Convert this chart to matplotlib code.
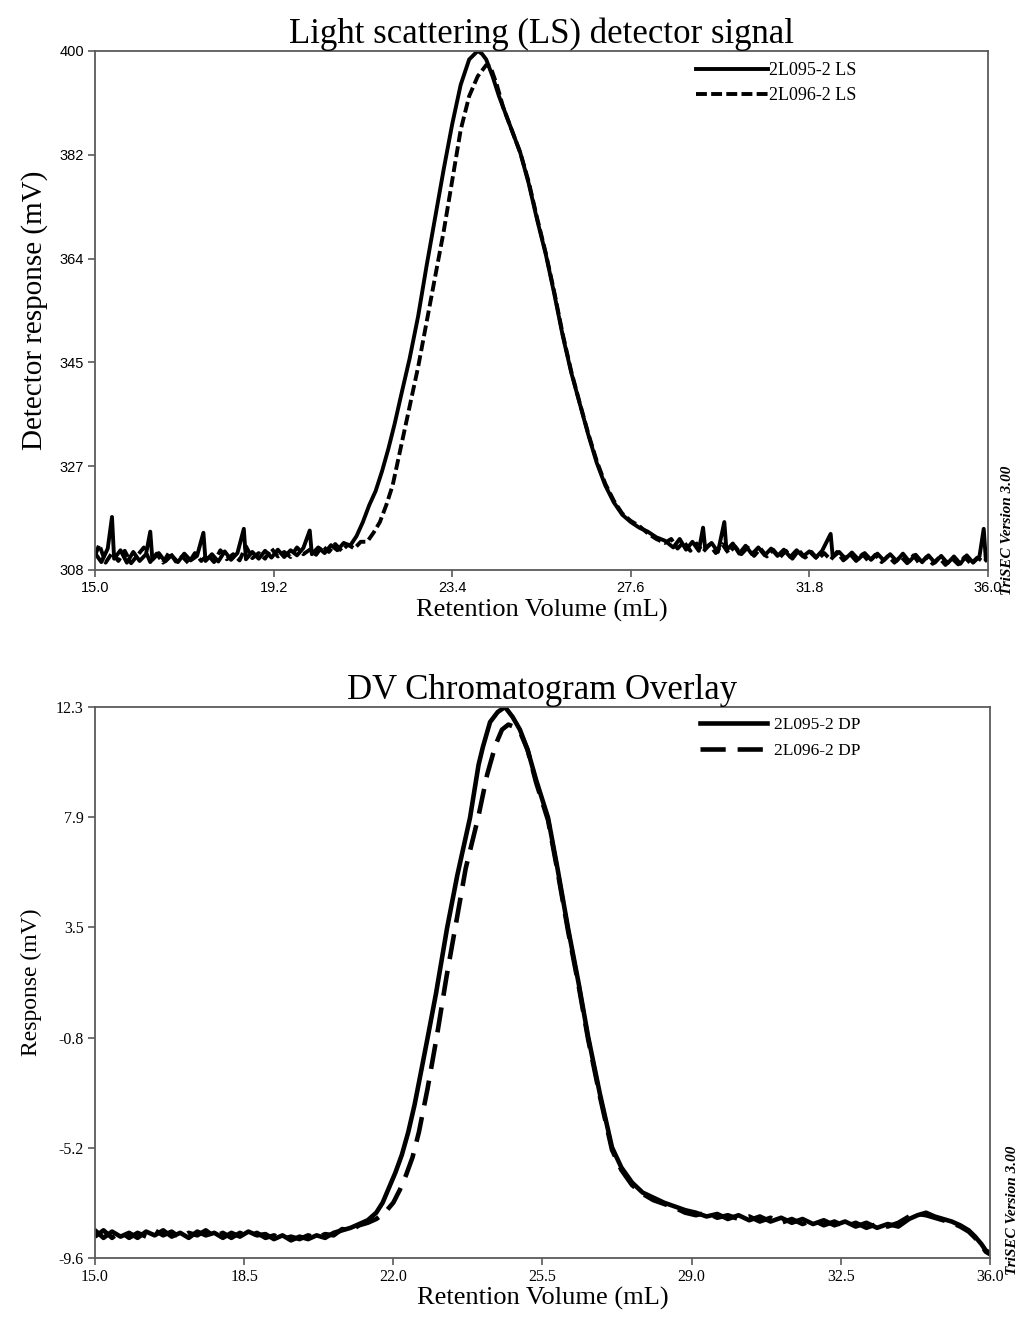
import matplotlib
matplotlib.use("Agg")
import matplotlib.pyplot as plt

# --- light scattering signal (top panel) ---
ls95_x = [15.00, 15.15, 15.30, 15.40, 15.45, 15.60, 15.75, 15.90, 16.05, 16.20, 16.30, 16.35,
          16.50, 16.65, 16.80, 16.95, 17.10, 17.25, 17.40, 17.55, 17.60, 17.75, 17.90, 18.05,
          18.20, 18.35, 18.50, 18.55, 18.70, 18.85, 19.00, 19.15, 19.30, 19.45, 19.60, 19.75,
          19.90, 20.05, 20.10, 20.25, 20.40, 20.55, 20.70, 20.85, 21.00,
          21.15, 21.30, 21.45, 21.60, 21.75, 21.90, 22.05, 22.20, 22.40, 22.60, 22.80, 23.00,
          23.20, 23.40, 23.60, 23.80, 24.00, 24.10, 24.20, 24.35, 24.50, 24.65, 24.80, 25.00,
          25.20, 25.40, 25.60, 25.80, 26.00, 26.20, 26.40, 26.60, 26.80, 27.00, 27.20, 27.40,
          27.60, 27.80, 28.00, 28.20, 28.40,
          28.60, 28.75, 28.90, 29.05, 29.20, 29.30, 29.35, 29.50, 29.65, 29.80, 29.85, 30.00,
          30.15, 30.30, 30.45, 30.60, 30.75, 30.90, 31.05, 31.20, 31.35, 31.50, 31.65, 31.80,
          31.95, 32.10, 32.30, 32.35, 32.50, 32.65, 32.80, 32.95, 33.10, 33.25, 33.40, 33.55,
          33.70, 33.85, 34.00, 34.15, 34.30, 34.45, 34.60, 34.75, 34.90, 35.05, 35.20, 35.35,
          35.50, 35.65, 35.80, 35.90, 35.95, 36.00]
ls95_y = [311.0, 309.4, 311.8, 317.4, 310.0, 311.5, 309.3, 311.2, 309.6, 310.8, 314.8, 309.8,
          311.0, 309.5, 310.6, 309.4, 310.9, 309.7, 310.5, 314.6, 309.6, 310.8, 309.5, 311.3,
          309.8, 311.0, 315.3, 309.9, 311.2, 310.0, 311.4, 310.2, 311.6, 310.3, 311.5, 310.6,
          311.9, 315.0, 310.8, 312.0, 311.0, 312.4, 311.5, 312.8, 312.3,
          314.0, 316.5, 319.5, 322.0, 325.5, 329.5, 334.0, 339.0, 345.5, 353.0, 362.0, 370.5,
          379.0, 387.0, 394.0, 398.5, 400.0, 399.5, 398.5, 395.5, 392.0, 389.0, 386.0, 382.0,
          376.5, 370.0, 364.0, 357.0, 349.5, 343.0, 337.5, 332.0, 327.0, 323.0, 320.0, 317.8,
          316.5, 315.5, 314.8, 313.8, 313.2,
          312.0, 313.5, 311.6, 313.0, 311.4, 315.5, 311.8, 312.8, 311.2, 316.5, 311.5, 312.7,
          310.9, 312.3, 310.8, 312.0, 310.6, 311.8, 310.5, 311.6, 310.3, 311.5, 310.4, 311.3,
          310.2, 311.4, 314.4, 310.3, 311.2, 310.0, 311.1, 309.9, 311.0, 309.8, 310.9, 309.7,
          310.8, 309.6, 310.9, 309.5, 310.7, 309.4, 310.6, 309.3, 310.5, 309.2, 310.4, 309.1,
          310.6, 309.3, 310.4, 315.3, 309.8, 310.3]

ls96_x = [15.00, 15.10, 15.25, 15.40, 15.55, 15.70, 15.85, 16.00, 16.15, 16.30, 16.45, 16.60,
          16.75, 16.90, 17.05, 17.20, 17.35, 17.50, 17.65, 17.80, 17.95, 18.10, 18.25, 18.40,
          18.55, 18.70, 18.85, 19.00, 19.15, 19.30, 19.45, 19.60, 19.75, 19.90, 20.05, 20.20,
          20.35, 20.50, 20.65, 20.80, 20.95, 21.10, 21.25, 21.40,
          21.55, 21.70, 21.85, 22.00, 22.20, 22.40, 22.60, 22.80, 23.00, 23.20, 23.40, 23.60,
          23.80, 24.00, 24.20, 24.30, 24.45, 24.60, 24.80, 25.00, 25.20, 25.40, 25.60, 25.80,
          26.00, 26.20, 26.40, 26.60, 26.80, 27.00, 27.20, 27.40, 27.60, 27.80, 28.00, 28.20,
          28.40,
          28.55, 28.70, 28.85, 29.00, 29.15, 29.30, 29.45, 29.60, 29.75, 29.90, 30.05, 30.20,
          30.35, 30.50, 30.65, 30.80, 30.95, 31.10, 31.25, 31.40, 31.55, 31.70, 31.85, 32.00,
          32.15, 32.30, 32.45, 32.60, 32.75, 32.90, 33.05, 33.20, 33.35, 33.50, 33.65, 33.80,
          33.95, 34.10, 34.25, 34.40, 34.55, 34.70, 34.85, 35.00, 35.15, 35.30, 35.45, 35.60,
          35.75, 35.90, 36.00]
ls96_y = [310.5, 312.5, 309.3, 311.0, 309.6, 311.4, 309.2, 310.6, 312.0, 309.4, 310.9, 309.3,
          311.2, 309.5, 310.4, 309.2, 311.0, 309.6, 310.7, 309.4, 311.5, 309.9, 310.8, 309.7,
          312.2, 310.1, 311.0, 310.0, 311.8, 310.4, 311.2, 310.3, 312.0, 310.8, 311.6, 310.7,
          312.3, 311.2, 312.6, 311.4, 312.5, 311.8, 313.0, 313.0,
          314.6, 316.5, 319.5, 323.0, 330.0, 337.0, 344.0, 352.0, 360.0, 368.0, 377.0, 386.0,
          392.0, 395.5, 397.5, 397.2, 394.0, 390.0, 386.0, 382.0, 376.8, 370.3, 364.2, 357.3,
          349.8, 343.2, 337.6, 332.2, 327.3, 323.3, 320.3, 318.0, 316.7, 315.8, 314.5, 313.5,
          312.8,
          313.5, 311.8, 313.0, 311.4, 312.7, 311.2, 312.5, 311.0, 312.6, 311.0, 312.2, 310.8,
          312.0, 310.5, 311.8, 310.4, 311.6, 310.2, 311.4, 310.0, 311.5, 310.2, 311.2, 309.9,
          311.0, 309.8, 311.2, 309.7, 310.9, 309.6, 310.8, 309.5, 310.7, 309.4, 310.5, 309.3,
          310.4, 309.2, 310.6, 309.0, 310.3, 309.1, 310.2, 308.9, 310.1, 309.0, 310.3, 309.1,
          310.2, 309.4, 310.0]

# --- differential viscometer signal (bottom panel) ---
dp95_x = [15.0, 15.2, 15.4, 15.6, 15.8, 16.0, 16.2, 16.4, 16.6, 16.8, 17.0, 17.2, 17.4, 17.6,
          17.8, 18.0, 18.2, 18.4, 18.6, 18.8, 19.0, 19.2, 19.4, 19.6, 19.8, 20.0, 20.2, 20.4,
          20.6, 20.8, 21.0, 21.2, 21.4, 21.6, 21.75, 21.9, 22.05, 22.2, 22.35, 22.5, 22.65,
          22.81, 23.0, 23.26, 23.5, 23.8, 24.0, 24.1, 24.27, 24.45, 24.62, 24.8, 24.97, 25.15,
          25.35, 25.63, 25.85, 26.1, 26.35, 26.57, 26.85, 27.13, 27.35, 27.6, 27.85, 28.1,
          28.35, 28.6, 28.85, 29.1, 29.35, 29.6, 29.85, 30.1, 30.35, 30.6, 30.85, 31.1, 31.35,
          31.6, 31.85, 32.1, 32.35, 32.6, 32.85, 33.1, 33.35, 33.6, 33.85, 34.1, 34.3, 34.5,
          34.7, 34.9, 35.1, 35.3, 35.5, 35.65, 35.8, 35.9, 36.0]
dp95_y = [-8.5, -8.8, -8.55, -8.75, -8.6, -8.8, -8.55, -8.7, -8.5, -8.75, -8.6, -8.8, -8.55,
          -8.7, -8.6, -8.8, -8.6, -8.75, -8.55, -8.7, -8.65, -8.85, -8.7, -8.9, -8.75, -8.85,
          -8.7, -8.8, -8.6, -8.5, -8.4, -8.25, -8.1, -7.8, -7.4, -6.8, -6.2, -5.5, -4.6, -3.5,
          -2.2, -0.8, 0.9, 3.5, 5.6, 7.9, 10.0, 10.7, 11.7, 12.1, 12.3, 11.9, 11.4, 10.6, 9.4,
          7.9, 5.9, 3.5, 1.3, -0.8, -3.1, -5.2, -6.0, -6.6, -7.0, -7.2, -7.4, -7.55, -7.7, -7.8,
          -7.95, -7.85, -8.05, -7.9, -8.1, -7.95, -8.15, -8.0, -8.2, -8.05, -8.25, -8.1, -8.3,
          -8.15, -8.35, -8.2, -8.4, -8.25, -8.35, -8.05, -7.9, -7.8, -7.95, -8.05, -8.15, -8.3,
          -8.5, -8.75, -9.05, -9.3, -9.4]

dp96_x = [15.0, 15.2, 15.4, 15.6, 15.8, 16.0, 16.2, 16.4, 16.6, 16.8, 17.0, 17.2, 17.4, 17.6,
          17.8, 18.0, 18.2, 18.4, 18.6, 18.8, 19.0, 19.2, 19.4, 19.6, 19.8, 20.0, 20.2, 20.4,
          20.6, 20.8, 21.0, 21.2, 21.4, 21.6, 21.8, 22.0, 22.15, 22.3, 22.45, 22.6, 22.8,
          23.02, 23.25, 23.45, 23.7, 23.99, 24.2, 24.4, 24.55, 24.7, 24.85, 25.0, 25.15, 25.35,
          25.63, 25.85, 26.1, 26.35, 26.57, 26.85, 27.13, 27.35, 27.6, 27.85, 28.1, 28.35,
          28.6, 28.85, 29.1, 29.35, 29.6, 29.85, 30.1, 30.35, 30.6, 30.85, 31.1, 31.35, 31.6,
          31.85, 32.1, 32.35, 32.6, 32.85, 33.1, 33.35, 33.6, 33.85, 34.1, 34.3, 34.5, 34.7,
          34.9, 35.1, 35.3, 35.5, 35.65, 35.8, 35.9, 36.0]
dp96_y = [-8.75, -8.5, -8.8, -8.55, -8.8, -8.6, -8.75, -8.5, -8.7, -8.55, -8.8, -8.6, -8.7,
          -8.5, -8.75, -8.6, -8.8, -8.6, -8.75, -8.6, -8.8, -8.7, -8.85, -8.75, -8.85, -8.7,
          -8.8, -8.65, -8.7, -8.45, -8.5, -8.3, -8.2, -8.05, -7.8, -7.4, -6.9, -6.3, -5.6,
          -4.6, -2.9, -0.8, 1.6, 3.5, 5.9, 7.9, 9.6, 10.8, 11.4, 11.6, 11.5, 11.2, 10.6, 9.3,
          7.8, 5.8, 3.4, 1.2, -0.9, -3.2, -5.3, -6.1, -6.7, -7.05, -7.3, -7.45, -7.6, -7.8,
          -7.9, -7.8, -8.0, -7.9, -8.05, -7.95, -8.15, -8.0, -8.2, -8.05, -8.25, -8.1, -8.3,
          -8.15, -8.35, -8.2, -8.4, -8.25, -8.35, -8.2, -7.95, -7.85, -7.9, -8.0, -8.1, -8.2,
          -8.35, -8.55, -8.8, -9.1, -9.35, -9.45]

ls_xticks = [15.0, 19.2, 23.4, 27.6, 31.8, 36.0]
ls_yticks = [308, 326.4, 344.8, 363.2, 381.6, 400]
ls_ylabels = ["308", "327", "345", "364", "382", "400"]
dp_xticks = [15.0, 18.5, 22.0, 25.5, 29.0, 32.5, 36.0]
dp_yticks = [-9.6, -5.22, -0.84, 3.54, 7.92, 12.3]
dp_ylabels = ["-9.6", "-5.2", "-0.8", "3.5", "7.9", "12.3"]

serif = "Liberation Serif"
sans = "Liberation Sans"
spine_col = "#5a5a5a"

fig = plt.figure(figsize=(10.18, 13.17), dpi=100)
ax1 = fig.add_axes([0.0933, 0.5672, 0.8772, 0.3941])
ax2 = fig.add_axes([0.0933, 0.0448, 0.8792, 0.4184])


def style(ax):
    for s in ax.spines.values():
        s.set_color(spine_col)
        s.set_linewidth(1.3)
    ax.tick_params(direction="out", length=5, width=1.2, color=spine_col,
                   top=False, right=False, pad=3)


# top panel
ax1.plot(ls95_x, ls95_y, color="black", lw=2.8, label="2L095-2 LS")
ax1.plot(ls96_x, ls96_y, color="black", lw=2.8, dashes=(2.8, 1.1), label="2L096-2 LS")
ax1.set_xlim(15, 36)
ax1.set_ylim(308, 400)
ax1.set_xticks(ls_xticks)
ax1.set_xticklabels([f"{v:.1f}" for v in ls_xticks], family=sans, fontsize=10.5)
ax1.set_yticks(ls_yticks)
ax1.set_yticklabels(ls_ylabels, family=sans, fontsize=10.5)
style(ax1)
ax1.set_title("Light scattering (LS) detector signal", family=serif, fontsize=25, pad=3)
ax1.set_xlabel("Retention Volume (mL)", family=serif, fontsize=19, labelpad=3)
ax1.set_ylabel("Detector response (mV)", family=serif, fontsize=21, labelpad=8)
ax1.legend(loc="upper left", bbox_to_anchor=(0.655, 1.01), frameon=False,
           prop={"family": serif, "size": 13}, handlelength=4.0, handletextpad=0.05,
           labelspacing=0.45)
ax1.text(1.022, 0.077, "TriSEC Version 3.00", transform=ax1.transAxes, rotation=90,
         family=serif, fontsize=11, fontweight="bold", fontstyle="italic",
         ha="center", va="center")

# bottom panel
ax2.plot(dp95_x, dp95_y, color="black", lw=3.3, label="2L095-2 DP")
ax2.plot(dp96_x, dp96_y, color="black", lw=3.3, dashes=(5.5, 2.6), label="2L096-2 DP")
ax2.set_xlim(15, 36)
ax2.set_ylim(-9.6, 12.3)
ax2.set_xticks(dp_xticks)
ax2.set_xticklabels([f"{v:.1f}" for v in dp_xticks], family=serif, fontsize=11.5)
ax2.set_yticks(dp_yticks)
ax2.set_yticklabels(dp_ylabels, family=serif, fontsize=11.5)
style(ax2)
ax2.set_title("DV Chromatogram Overlay", family=serif, fontsize=25, pad=3)
ax2.set_xlabel("Retention Volume (mL)", family=serif, fontsize=19, labelpad=1)
ax2.set_ylabel("Response (mV)", family=serif, fontsize=17, labelpad=10)
ax2.legend(loc="upper left", bbox_to_anchor=(0.658, 1.01), frameon=False,
           prop={"family": serif, "size": 12.5}, handlelength=3.9, handletextpad=0.4,
           labelspacing=0.55)
ax2.text(1.025, 0.087, "TriSEC Version 3.00", transform=ax2.transAxes, rotation=90,
         family=serif, fontsize=11, fontweight="bold", fontstyle="italic",
         ha="center", va="center")

fig.savefig("out.png", dpi=100)
